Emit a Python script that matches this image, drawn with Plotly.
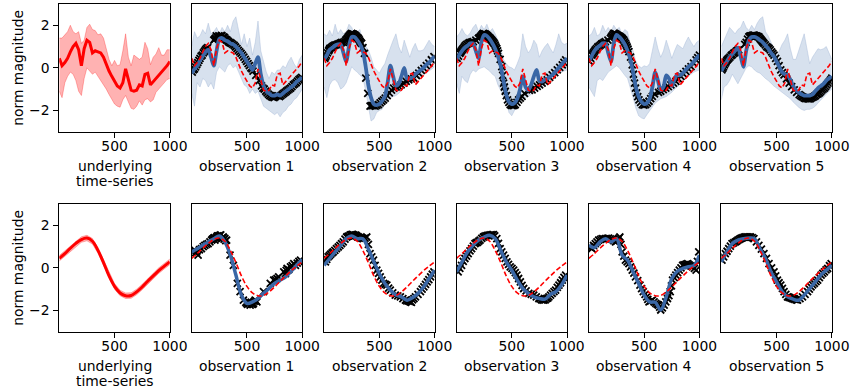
import plotly.graph_objects as go

W, H = 850, 389

# ---------------- data ----------------
xg = [i * 25 for i in range(41)]          # 0..1000 step 25
xs = [i * 50 for i in range(21)]          # 0..1000 step 50

# top row: underlying (noisy) series estimate and band
top_mean = [0.45, 0.1, 0.25, 0.45, 0.75, 1.0, 1.15, 0.85, 0.1, 0.9, 1.3, 1.2, 0.7, 0.8, 0.75, 0.7,
            0.5, 0.15, -0.15, -0.4, -0.65, -0.85, -0.95, -0.7, -0.05, -0.55, -1.05, -1.1, -1.05, -0.8,
            -0.85, -0.3, -0.25, -0.8, -0.65, -0.5, -0.4, -0.25, -0.1, 0.1, 0.3]
top_upper = [1.4, 1.4, 1.55, 1.7, 2.0, 1.7, 1.6, 1.7, 1.15, 1.3, 1.9, 2.05, 1.8, 1.75, 1.55, 1.6,
             1.4, 0.9, 0.4, 0.1, 0.35, 0.1, 0.15, 0.8, 1.6, 0.5, 0.1, 0.6, 0.5, 0.4,
             0.5, 1.2, 0.9, 0.15, 0.5, 0.65, 0.95, 0.6, 0.6, 0.85, 0.85]
top_lower = [-1.1, -1.4, -0.7, -0.4, -0.2, -0.3, -0.6, -1.1, -1.3, -0.5, 0.0, -0.15, -0.3, -0.2, -0.4, -0.6,
             -0.75, -1.0, -1.25, -1.5, -1.7, -1.8, -1.85, -1.5, -1.3, -1.6, -1.9, -1.95, -1.8, -1.55,
             -1.75, -1.5, -1.45, -1.6, -1.5, -1.15, -1.0, -0.85, -0.7, -0.55, -0.5]

# top row observation panels: posterior mean, band, observations
top_obs_mean = [
    [-0.25, -0.05, 0.1, 0.35, 0.55, 0.75, 0.85, 0.5, 0.1, 0.8, 1.35, 1.4, 1.3, 1.25, 1.15, 1.1,
     1.0, 0.85, 0.7, 0.5, 0.3, 0.1, -0.1, 0.2, 0.5, -0.3, -0.85, -1.1, -1.2, -1.3,
     -1.3, -1.25, -1.3, -1.2, -1.1, -1.0, -0.9, -0.8, -0.65, -0.55, -0.45],
    [0.4, 0.6, 0.85, 0.95, 1.05, 1.1, 1.1, 0.7, 0.3, 1.0, 1.45, 1.45, 1.3, 1.1, 0.8, 0.1,
     -0.8, -1.4, -1.7, -1.75, -1.7, -1.55, -1.35, -0.7, 0.1, -0.4, -0.85, -0.75, -0.4, 0.0,
     -0.5, -0.5, -0.45, -0.3, -0.2, -0.1, 0.0, 0.15, 0.25, 0.4, 0.55],
    [0.4, 0.6, 0.8, 0.95, 1.05, 1.15, 1.15, 0.8, 0.45, 1.2, 1.55, 1.5, 1.35, 1.15, 0.9, 0.55,
     0.1, -0.6, -1.25, -1.6, -1.7, -1.65, -1.45, -1.0, -0.4, -0.9, -1.05, -0.8, -0.4, -0.1,
     -0.6, -0.65, -0.55, -0.5, -0.4, -0.3, -0.15, 0.0, 0.15, 0.3, 0.45],
    [0.3, 0.55, 0.8, 0.95, 1.05, 1.15, 1.15, 0.7, 0.3, 1.15, 1.55, 1.45, 1.3, 1.1, 0.8, 0.4,
     -0.2, -0.9, -1.35, -1.6, -1.7, -1.65, -1.45, -0.9, -0.2, -0.6, -1.05, -0.9, -0.35, -0.5,
     -0.85, -0.55, -0.3, -0.35, -0.25, -0.1, 0.05, 0.15, 0.3, 0.45, 0.6],
    [-0.15, 0.1, 0.3, 0.5, 0.65, 0.8, 0.95, 0.55, 0.05, 0.8, 1.3, 1.45, 1.45, 1.4, 1.3, 1.2,
     1.05, 0.9, 0.7, 0.55, 0.3, 0.05, -0.2, -0.3, -0.35, -0.55, -0.85, -1.05, -1.15, -1.25,
     -1.3, -1.3, -1.3, -1.25, -1.1, -0.95, -0.85, -0.75, -0.6, -0.5, -0.4],
]
top_obs_upper = [
    [1.0, 1.7, 1.4, 1.5, 1.8, 1.6, 2.1, 1.6, 1.7, 1.9, 1.6, 1.9, 1.7, 2.0, 1.7, 2.2,
     2.4, 1.7, 1.1, 1.6, 1.0, 1.4, 0.6, 1.2, 2.2, 0.8, 0.3, -0.2, -0.5, -0.2,
     -0.3, -0.1, -0.1, 0.1, 0.0, 0.3, 0.5, 0.2, 0.0, 0.4, 0.6],
    [1.6, 1.5, 1.77, 1.5, 2.05, 1.6, 1.8, 1.6, 1.7, 2.05, 1.9, 1.6, 1.7, 1.8, 1.2, 1.0,
     0.85, 0.5, 0.05, -0.1, -0.25, 0.0, 0.2, 0.6, 1.0, 1.3, 1.6, 1.0, 0.7, 1.3,
     0.9, 0.5, 0.9, 1.15, 0.8, 0.8, 0.85, 1.1, 1.3, 1.1, 1.0],
    [1.45, 1.6, 1.85, 1.6, 1.5, 1.65, 1.9, 2.05, 1.7, 2.0, 1.8, 2.05, 1.7, 1.85, 1.6, 1.3,
     0.9, 0.4, 0.2, 0.05, 0.0, -0.1, 0.2, 0.55, 1.6, 1.0, 0.7, 0.9, 1.3, 1.1,
     0.5, 0.8, 1.0, 1.15, 0.9, 0.7, 1.1, 1.6, 1.2, 1.1, 1.15],
    [1.5, 1.6, 1.9, 1.5, 1.6, 2.0, 1.7, 1.9, 1.7, 2.0, 1.8, 1.9, 1.6, 1.8, 1.7, 1.1,
     0.8, 0.3, 0.1, 0.0, 0.1, 0.05, 0.2, 0.8, 1.45, 0.9, 0.5, 0.8, 1.3, 0.9,
     0.45, 0.8, 1.1, 1.0, 0.9, 1.2, 1.45, 1.2, 1.0, 1.2, 1.3],
    [1.0, 1.3, 1.6, 1.9, 1.75, 1.6, 1.8, 1.9, 2.2, 1.9, 1.75, 2.0, 1.8, 2.1, 2.3, 2.4,
     1.7, 1.5, 1.2, 0.9, 0.6, 0.8, 1.1, 1.3, 1.6, 0.9, 0.4, 0.4, 0.8, 1.2,
     1.6, 0.9, 0.2, 0.5, 0.7, 0.9, 0.85, 0.9, 1.0, 0.7, 0.4],
]
top_obs_lower = [
    [-1.2, -1.8, -0.7, -0.9, -0.5, -0.6, -0.9, -0.7, -1.0, -0.2, 0.05, -0.1, -0.2, 0.1, 0.2, 0.0,
     0.1, -0.2, -0.5, -0.8, -0.9, -1.2, -1.0, -1.2, -1.1, -1.5, -1.8, -1.9, -2.0, -2.1,
     -2.2, -2.1, -2.3, -2.1, -2.0, -1.8, -1.7, -1.5, -1.4, -1.2, -1.0],
    [-0.9, -1.4, -0.8, -0.6, -0.55, -0.7, -1.0, -0.9, -0.7, -0.3, 0.05, -0.1, -0.2, -0.35, -0.45, -1.05,
     -1.8, -2.5, -2.4, -2.1, -2.0, -1.95, -1.7, -1.5, -1.4, -1.35, -1.3, -1.2, -1.05, -0.9,
     -0.8, -0.7, -0.65, -0.55, -0.45, -0.4, -0.3, -0.25, -0.15, -0.05, 0.05],
    [-0.7, -1.2, -0.4, -0.6, -0.7, -0.3, -0.1, -0.2, -0.05, 0.0, 0.05, -0.05, -0.15, -0.3, -0.4, -0.8,
     -1.05, -1.3, -1.6, -2.1, -2.25, -2.0, -1.8, -1.55, -1.45, -1.4, -1.35, -1.25, -1.15, -1.05,
     -0.95, -0.9, -0.8, -0.65, -0.5, -0.4, -0.3, -0.25, -0.2, -0.15, -0.1],
    [-0.9, -1.1, -1.35, -0.6, -0.5, -0.6, -0.4, -0.2, -0.1, 0.0, 0.1, 0.0, -0.2, -0.35, -0.5, -0.9,
     -1.4, -1.9, -2.25, -2.35, -2.4, -2.2, -2.0, -1.8, -1.65, -1.55, -1.45, -1.4, -1.35, -1.25,
     -1.15, -1.0, -0.9, -0.75, -0.6, -0.5, -0.4, -0.3, -0.2, -0.15, -0.1],
    [-1.5, -0.9, -0.8, -0.6, -0.3, -0.5, -0.75, -0.5, -0.25, 0.0, 0.1, 0.05, -0.1, -0.2, -0.25, -0.4,
     -0.5, -0.6, -0.75, -0.85, -0.95, -1.05, -1.15, -1.25, -1.35, -1.45, -1.6, -1.75, -1.85, -1.95,
     -2.0, -1.95, -1.95, -1.9, -1.8, -1.65, -1.5, -1.35, -1.2, -1.1, -1.0],
]
top_obs_x = [
    [5, 25, 45, 65, 85, 105, 125, 145, 200, 215, 230, 245, 260, 275, 290, 305, 320, 340, 360, 385,
     410, 435, 460, 485, 510, 535, 555, 645, 670, 695, 720, 745, 770, 795, 820, 845, 870, 895, 920,
     945, 970, 995,
     15, 35, 55, 75, 95, 115, 135, 208, 222, 238, 252, 268, 283, 298, 313, 330, 350, 372, 397, 422,
     447, 472, 497, 522, 545, 580, 610, 632, 657, 682, 707, 732, 757, 782, 807, 832, 857, 882, 907,
     932, 957, 982],
    [6, 21, 40, 52, 75, 97, 120, 143, 160, 188, 205, 219, 235, 249, 265, 280, 295, 310, 325, 340, 365,
     377, 416, 438, 462, 492, 523, 553, 590, 629, 675, 720, 766, 812, 857, 903, 948, 994,
     14, 30, 46, 64, 86, 108, 131, 152, 175, 196, 212, 227, 242, 257, 272, 288, 302, 318, 332, 352,
     395, 427, 450, 477, 507, 538, 571, 610, 652, 697, 743, 789, 835, 880, 925, 971],
    [6, 30, 45, 61, 80, 106, 130, 152, 198, 215, 230, 243, 258, 274, 290, 305, 319, 335, 350, 365, 380,
     410, 426, 441, 462, 486, 511, 532, 562, 593, 684, 730, 775, 821, 866, 912, 957, 988,
     18, 38, 53, 70, 93, 118, 141, 175, 206, 222, 236, 250, 266, 282, 297, 312, 327, 342, 357, 372,
     395, 418, 433, 451, 474, 498, 521, 547, 577, 615, 660, 707, 752, 798, 843, 889, 934, 972],
    [6, 27, 42, 58, 80, 103, 125, 149, 195, 210, 225, 240, 255, 270, 285, 301, 316, 331, 346, 362, 392,
     413, 432, 453, 483, 514, 544, 574, 650, 696, 742, 787, 833, 878, 924, 970, 1000,
     16, 35, 50, 69, 92, 114, 137, 172, 202, 218, 232, 248, 262, 278, 293, 308, 323, 338, 354, 377,
     403, 422, 442, 468, 498, 529, 559, 594, 630, 673, 719, 765, 810, 855, 901, 947, 985],
    [6, 20, 36, 50, 67, 90, 112, 135, 158, 225, 249, 262, 280, 295, 310, 325, 340, 355, 370, 386, 410,
     432, 455, 477, 508, 538, 568, 614, 660, 705, 730, 751, 775, 796, 820, 842, 865, 888, 910, 933,
     955, 979, 1000,
     13, 28, 43, 58, 78, 100, 123, 146, 212, 237, 255, 271, 288, 302, 318, 333, 348, 362, 378, 398,
     421, 443, 466, 492, 523, 553, 590, 637, 682, 718, 740, 763, 786, 808, 831, 853, 876, 899, 921,
     944, 967, 990],
]
top_obs_y = [
    [-0.2, -0.05, 0.15, 0.35, 0.55, 0.7, 0.85, 0.95, 1.3, 1.4, 1.45, 1.5, 1.4, 1.5, 1.45, 1.35, 1.3,
     1.2, 1.15, 1.05, 0.9, 0.75, 0.6, 0.4, 0.2, 0.0, -0.15, -0.95, -1.1, -1.25, -1.35, -1.4, -1.3,
     -1.35, -1.25, -1.15, -1.05, -0.95, -0.8, -0.7, -0.55, -0.45,
     -0.1, 0.05, 0.25, 0.45, 0.6, 0.78, 0.9, 1.35, 1.5, 1.42, 1.48, 1.52, 1.38, 1.42, 1.32, 1.25,
     1.18, 1.1, 0.98, 0.82, 0.68, 0.5, 0.3, 0.1, -0.05, -0.35, -0.6, -0.85, -1.0, -1.18, -1.3,
     -1.38, -1.35, -1.32, -1.3, -1.2, -1.1, -1.0, -0.88, -0.75, -0.62, -0.5],
    [0.45, 0.6, 0.8, 0.92, 1.0, 1.07, 1.1, 1.15, 1.2, 1.23, 1.35, 1.46, 1.55, 1.62, 1.58, 1.54, 1.45,
     1.38, 1.25, 1.15, 0.68, -0.48, -1.8, -1.77, -1.8, -1.73, -1.57, -1.42, -1.18, -0.95, -0.87,
     -0.72, -0.56, -0.48, -0.25, -0.02, 0.22, 0.53,
     0.52, 0.7, 0.85, 0.95, 1.03, 1.08, 1.12, 1.17, 1.2, 1.3, 1.4, 1.5, 1.58, 1.6, 1.56, 1.5, 1.42,
     1.32, 1.2, 0.95, -1.2, -1.78, -1.78, -1.76, -1.65, -1.5, -1.3, -1.05, -0.9, -0.8, -0.64, -0.52,
     -0.36, -0.12, 0.1, 0.38],
    [0.45, 0.68, 0.8, 0.92, 1.05, 1.15, 1.2, 1.23, 1.38, 1.45, 1.55, 1.62, 1.6, 1.54, 1.45, 1.38, 1.3,
     1.2, 1.07, 0.9, 0.68, 0.06, -0.72, -1.1, -1.5, -1.73, -1.77, -1.73, -1.5, -1.34, -1.03, -0.87,
     -0.72, -0.56, -0.33, -0.1, 0.14, 0.37,
     0.55, 0.74, 0.86, 0.98, 1.1, 1.18, 1.22, 1.3, 1.42, 1.5, 1.58, 1.6, 1.57, 1.5, 1.42, 1.34, 1.25,
     1.14, 0.98, 0.8, 0.4, -0.35, -0.9, -1.3, -1.62, -1.76, -1.76, -1.62, -1.42, -1.2, -1.06, -0.95,
     -0.8, -0.64, -0.45, -0.22, 0.02, 0.26],
    [0.3, 0.6, 0.72, 0.84, 0.98, 1.07, 1.15, 1.23, 1.38, 1.5, 1.62, 1.6, 1.54, 1.5, 1.45, 1.38, 1.3,
     1.15, 0.98, 0.76, 0.14, -0.72, -1.18, -1.5, -1.73, -1.73, -1.57, -1.34, -1.1, -0.95, -0.8,
     -0.64, -0.4, -0.17, 0.06, 0.37, 0.6,
     0.45, 0.66, 0.78, 0.9, 1.02, 1.12, 1.2, 1.3, 1.45, 1.56, 1.62, 1.57, 1.52, 1.48, 1.42, 1.34,
     1.22, 1.07, 0.88, 0.5, -0.3, -0.95, -1.35, -1.62, -1.75, -1.66, -1.45, -1.22, -1.15, -1.02,
     -0.88, -0.72, -0.52, -0.28, -0.05, 0.22, 0.48],
    [-0.1, 0.05, 0.22, 0.35, 0.45, 0.58, 0.68, 0.78, 0.84, 1.2, 1.46, 1.5, 1.52, 1.54, 1.5, 1.48,
     1.46, 1.35, 1.25, 1.15, 1.0, 0.92, 0.75, 0.6, 0.3, -0.1, -0.33, -0.72, -1.03, -1.26, -1.35,
     -1.42, -1.45, -1.46, -1.4, -1.34, -1.25, -1.18, -1.05, -0.95, -0.8, -0.64, -0.48,
     -0.02, 0.14, 0.28, 0.4, 0.5, 0.62, 0.72, 0.82, 1.1, 1.35, 1.48, 1.5, 1.53, 1.52, 1.5, 1.47,
     1.4, 1.3, 1.2, 1.08, 0.96, 0.84, 0.68, 0.45, 0.1, -0.22, -0.52, -0.88, -1.15, -1.3, -1.38,
     -1.44, -1.46, -1.44, -1.38, -1.3, -1.22, -1.12, -1.0, -0.88, -0.72, -0.56],
]

# bottom row: smooth underlying series and band
bot_mean = [0.45, 0.67, 0.92, 1.15, 1.33, 1.4, 1.25, 0.82, 0.25, -0.38, -0.87, -1.18, -1.31,
            -1.3, -1.13, -0.9, -0.63, -0.38, -0.13, 0.08, 0.28]
bot_upper = [0.58, 0.8, 1.05, 1.28, 1.46, 1.53, 1.38, 0.95, 0.38, -0.25, -0.74, -1.05, -1.18,
             -1.17, -1.0, -0.77, -0.5, -0.25, 0.0, 0.21, 0.41]
bot_lower = [0.32, 0.54, 0.79, 1.02, 1.2, 1.27, 1.12, 0.69, 0.12, -0.51, -1.0, -1.31, -1.44,
             -1.43, -1.26, -1.03, -0.76, -0.51, -0.26, -0.05, 0.15]

bot_obs_mean = [
    [0.75, 0.9, 1.06, 1.22, 1.37, 1.5, 1.22, 0.6, -0.34, -1.28, -1.67, -1.6, -1.44, -1.2, -0.97,
     -0.73, -0.58, -0.42, -0.16, 0.12, 0.4],
    [0.12, 0.44, 0.75, 1.06, 1.37, 1.5, 1.37, 1.37, 0.9, 0.28, -0.27, -0.73, -1.05, -1.28, -1.36,
     -1.52, -1.4, -1.2, -0.9, -0.5, -0.11],
    [-0.19, 0.28, 0.75, 1.06, 1.3, 1.45, 1.53, 1.37, 0.83, 0.28, -0.11, -0.58, -0.97, -1.2, -1.36,
     -1.44, -1.47, -1.25, -1.12, -0.81, -0.34],
    [1.06, 0.95, 1.22, 1.37, 1.22, 1.37, 0.6, 0.36, -0.19, -0.73, -1.28, -1.6, -1.62, -1.98, -1.36,
     -0.5, -0.16, -0.03, 0.05, 0.1, 0.6],
    [0.28, 0.75, 1.14, 1.3, 1.37, 1.4, 1.37, 0.9, 0.44, -0.19, -0.66, -1.12, -1.36, -1.47, -1.52,
     -1.28, -0.97, -0.66, -0.34, -0.11, 0.12],
]
bot_obs_x = [
    [6, 27, 45, 58, 88, 119, 149, 180, 195, 210, 225, 240, 255, 271, 286, 300, 316, 347, 377, 413,
     438, 468, 498, 514, 529, 545, 559, 574, 590, 650, 711, 742, 772, 833, 848, 863, 894, 924, 939,
     985,
     16, 36, 70, 104, 134, 165, 188, 203, 218, 233, 248, 263, 278, 293, 308, 490, 506, 521, 537,
     552, 566, 582, 757, 787, 855, 878, 909, 955, 970],
    [12, 36, 60, 82, 112, 143, 173, 204, 225, 249, 265, 280, 295, 310, 340, 356, 386, 416, 447, 477,
     508, 538, 568, 599, 644, 690, 736, 760, 781, 800, 827, 872, 903, 933, 964, 994,
     24, 48, 72, 97, 128, 158, 189, 215, 237, 257, 272, 287, 302, 325, 348, 371, 401, 432, 462, 493,
     523, 553, 584, 621, 667, 713, 748, 770, 790, 813, 850, 887, 918, 948, 979],
    [15, 46, 76, 106, 137, 167, 190, 213, 243, 265, 289, 310, 334, 365, 395, 426, 456, 486, 517, 547,
     578, 608, 654, 699, 745, 770, 790, 815, 836, 866, 897, 927, 957, 988,
     30, 61, 91, 122, 152, 178, 202, 228, 254, 277, 300, 322, 346, 380, 410, 441, 471, 502, 532,
     562, 593, 630, 676, 722, 757, 780, 803, 826, 851, 882, 912, 942, 972],
    [6, 27, 58, 88, 119, 149, 179, 210, 240, 260, 280, 301, 331, 362, 392, 422, 462, 492, 523, 544,
     574, 605, 630, 650, 681, 711, 736, 757, 787, 818, 848, 870, 894, 915, 939, 970, 994,
     16, 42, 73, 104, 134, 164, 194, 225, 250, 270, 290, 316, 346, 377, 407, 442, 477, 508, 533,
     559, 590, 618, 640, 665, 696, 724, 747, 772, 803, 833, 859, 882, 905, 927, 955, 982],
    [6, 36, 67, 97, 128, 150, 173, 195, 219, 240, 264, 295, 340, 386, 432, 477, 508, 538, 568, 599,
     620, 644, 665, 690, 735, 781, 812, 842, 872, 903, 933, 963, 994,
     21, 52, 82, 113, 139, 162, 184, 207, 230, 252, 280, 318, 363, 409, 455, 492, 523, 553, 584,
     610, 632, 655, 678, 712, 758, 797, 827, 857, 888, 918, 948, 979],
]
bot_obs_y = [
    [0.75, 0.83, 0.75, 0.6, 0.9, 1.06, 1.14, 1.3, 1.37, 1.3, 1.45, 1.5, 1.53, 1.37, 1.45, 1.38, 1.3,
     0.6, 0.12, -0.73, -1.12, -1.52, -1.67, -1.6, -1.75, -1.7, -1.67, -1.52, -1.6, -1.12, -0.73,
     -0.58, -0.5, -0.19, -0.27, -0.03, 0.05, 0.2, 0.12, 0.36,
     0.8, 0.72, 0.85, 1.0, 1.1, 1.22, 1.35, 1.42, 1.4, 1.5, 1.45, 1.55, 1.42, 1.35, 1.28, -1.62,
     -1.72, -1.68, -1.62, -1.72, -1.58, -1.55, -0.55, -0.42, -0.12, -0.08, 0.1, 0.22, 0.3],
    [0.28, 0.52, 0.65, 0.75, 0.9, 1.06, 1.22, 1.45, 1.5, 1.56, 1.55, 1.53, 1.5, 1.45, 1.4, 1.37,
     1.45, 0.67, 0.36, -0.11, -0.42, -0.73, -0.81, -1.05, -1.28, -1.36, -1.52, -1.55, -1.6, -1.5,
     -1.36, -1.12, -0.89, -0.66, -0.42, -0.19,
     0.4, 0.58, 0.7, 0.82, 0.98, 1.14, 1.35, 1.48, 1.55, 1.57, 1.52, 1.54, 1.46, 1.42, 1.38, 1.4,
     1.1, 0.52, 0.12, -0.26, -0.58, -0.77, -0.95, -1.18, -1.32, -1.45, -1.55, -1.58, -1.62, -1.45,
     -1.25, -1.0, -0.78, -0.55, -0.3],
    [-0.19, 0.12, 0.44, 0.67, 0.9, 1.14, 1.2, 1.3, 1.45, 1.5, 1.53, 1.55, 1.56, 1.37, 0.9, 0.6,
     0.28, 0.05, -0.11, -0.34, -0.66, -0.97, -1.2, -1.28, -1.44, -1.5, -1.52, -1.45, -1.36, -1.2,
     -1.05, -0.81, -0.58, -0.34,
     -0.02, 0.3, 0.55, 0.8, 1.02, 1.18, 1.26, 1.38, 1.48, 1.52, 1.54, 1.56, 1.5, 1.15, 0.75, 0.45,
     0.16, -0.02, -0.22, -0.5, -0.82, -1.08, -1.24, -1.36, -1.46, -1.5, -1.5, -1.42, -1.28, -1.12,
     -0.92, -0.7, -0.45],
    [0.98, 0.9, 1.14, 1.3, 1.37, 1.37, 1.4, 1.34, 1.22, 1.3, 1.45, 0.75, 0.36, 0.2, -0.11, -0.42,
     -0.81, -1.12, -1.36, -1.6, -1.52, -1.67, -1.75, -1.98, -1.75, -1.44, -1.12, -0.58, -0.34, -0.11,
     0.12, 0.15, 0.2, 0.1, 0.05, -0.11, 0.75,
     0.95, 1.05, 1.22, 1.34, 1.36, 1.38, 1.36, 1.28, 1.25, 1.38, 1.1, 0.55, 0.28, 0.05, -0.25, -0.6,
     -0.98, -1.25, -1.48, -1.56, -1.6, -1.72, -1.85, -1.88, -1.6, -1.3, -0.85, -0.46, -0.22, 0.0,
     0.14, 0.18, 0.15, 0.08, -0.02, 0.3],
    [0.36, 0.67, 0.9, 1.14, 1.22, 1.3, 1.37, 1.42, 1.45, 1.45, 1.45, 1.37, 1.06, 0.67, 0.2, -0.19,
     -0.58, -0.81, -1.12, -1.36, -1.4, -1.44, -1.48, -1.52, -1.36, -1.12, -0.89, -0.73, -0.58,
     -0.34, -0.19, -0.03, 0.2,
     0.52, 0.78, 1.02, 1.18, 1.26, 1.34, 1.4, 1.44, 1.45, 1.46, 1.42, 1.22, 0.88, 0.45, 0.0, -0.38,
     -0.7, -0.96, -1.25, -1.38, -1.42, -1.46, -1.5, -1.45, -1.25, -1.0, -0.8, -0.65, -0.46, -0.26,
     -0.1, 0.1],
]

row_titles = [["underlying", "time-series"], ["observation 1"], ["observation 2"],
              ["observation 3"], ["observation 4"], ["observation 5"]]
y_title = "norm magnitude"
x_ticks = [500, 1000]
y_ticks = [-2, 0, 2]
y_ticklabels = ["\u22122", "0", "2"]

# ---------------- style ----------------
RED = "#ff0000"
BLUE = "#3a67a6"
BAND_BLUE = "rgba(176,196,222,0.5)"
BAND_RED = "rgba(255,0,0,0.3)"
FONT = "DejaVu Sans"
FS = 13.9

col_left = [59.3 + 132.4 * c for c in range(6)]
panel_w = 110.5
row_top = [4.0, 204.0]
panel_h = 127.7

MARK = dict(symbol="x-thin", size=7, color="black", line=dict(width=1.8, color="black"))

fig = go.Figure()


def ax_ids(r, c):
    k = r * 6 + c + 1
    return ("x" if k == 1 else f"x{k}"), ("y" if k == 1 else f"y{k}"), k


def add_band(xa, ya, x, up, lo, color, edge):
    fig.add_trace(go.Scatter(x=x, y=up, xaxis=xa, yaxis=ya, mode="lines",
                             line=dict(width=0.8, color=edge),
                             showlegend=False, hoverinfo="skip"))
    fig.add_trace(go.Scatter(x=x, y=lo, xaxis=xa, yaxis=ya, mode="lines", fill="tonexty",
                             fillcolor=color, line=dict(width=0.8, color=edge),
                             showlegend=False, hoverinfo="skip"))


for r in range(2):
    for c in range(6):
        xa, ya, k = ax_ids(r, c)
        if r == 0:
            if c == 0:
                add_band(xa, ya, xg, top_upper, top_lower, BAND_RED, "rgba(255,0,0,0.35)")
                fig.add_trace(go.Scatter(x=xg, y=top_mean, xaxis=xa, yaxis=ya, mode="lines",
                                         line=dict(color=RED, width=3), showlegend=False))
            else:
                i = c - 1
                add_band(xa, ya, xg, top_obs_upper[i], top_obs_lower[i], BAND_BLUE,
                         "rgba(150,175,210,0.45)")
                fig.add_trace(go.Scatter(x=top_obs_x[i], y=top_obs_y[i], xaxis=xa, yaxis=ya,
                                         mode="markers", marker=MARK, showlegend=False))
                fig.add_trace(go.Scatter(x=xg, y=top_obs_mean[i], xaxis=xa, yaxis=ya, mode="lines",
                                         line=dict(color=BLUE, width=3.8, shape="spline",
                                                   smoothing=0.8),
                                         showlegend=False))
                fig.add_trace(go.Scatter(x=xg, y=top_mean, xaxis=xa, yaxis=ya, mode="lines",
                                         line=dict(color=RED, width=1.6, dash="5px,2.5px"),
                                         showlegend=False))
        else:
            if c == 0:
                add_band(xa, ya, xs, bot_upper, bot_lower, BAND_RED, "rgba(255,0,0,0.35)")
                fig.add_trace(go.Scatter(x=xs, y=bot_mean, xaxis=xa, yaxis=ya, mode="lines",
                                         line=dict(color=RED, width=3, shape="spline"),
                                         showlegend=False))
            else:
                i = c - 1
                fig.add_trace(go.Scatter(x=bot_obs_x[i], y=bot_obs_y[i], xaxis=xa, yaxis=ya,
                                         mode="markers", marker=MARK, showlegend=False))
                fig.add_trace(go.Scatter(x=xs, y=bot_obs_mean[i], xaxis=xa, yaxis=ya, mode="lines",
                                         line=dict(color=BLUE, width=3.5, shape="spline"),
                                         showlegend=False))
                fig.add_trace(go.Scatter(x=xs, y=bot_mean, xaxis=xa, yaxis=ya, mode="lines",
                                         line=dict(color=RED, width=1.6, dash="5px,2.5px",
                                                   shape="spline"),
                                         showlegend=False))

        x0 = col_left[c] / W
        x1 = (col_left[c] + panel_w) / W
        y1 = 1 - row_top[r] / H
        y0 = 1 - (row_top[r] + panel_h) / H
        key = "" if k == 1 else str(k)
        fig.layout["xaxis" + key] = dict(
            domain=[x0, x1], anchor=ya, range=[0, 1000], tickvals=x_ticks,
            ticktext=[str(v) for v in x_ticks], ticks="outside", ticklen=5, tickwidth=1,
            tickcolor="black", showline=True, linecolor="black", linewidth=1, mirror=True,
            showgrid=False, zeroline=False, tickfont=dict(family=FONT, size=FS, color="black"),
            ticklabelstandoff=-3, automargin=False)
        fig.layout["yaxis" + key] = dict(
            domain=[y0, y1], anchor=xa, range=[-3, 3],
            tickvals=y_ticks if c == 0 else [], ticktext=y_ticklabels if c == 0 else [],
            ticks="outside" if c == 0 else "", ticklen=5, tickwidth=1, tickcolor="black",
            showline=True, linecolor="black", linewidth=1, mirror=True, showgrid=False,
            zeroline=False, showticklabels=(c == 0), automargin=False,
            tickfont=dict(family=FONT, size=FS, color="black"), ticklabelstandoff=1)

        # x title (one annotation per line)
        for j, line in enumerate(row_titles[c]):
            fig.add_annotation(text=line, xref="paper", yref="paper",
                               x=(col_left[c] + panel_w / 2) / W,
                               y=1 - (row_top[r] + panel_h + 24 + 15.5 * j) / H,
                               yanchor="top", xanchor="center", showarrow=False,
                               font=dict(family=FONT, size=FS, color="black"))
    # y title
    fig.add_annotation(text=y_title, xref="paper", yref="paper", x=18 / W,
                       y=1 - (row_top[r] + panel_h / 2) / H, textangle=-90, showarrow=False,
                       xanchor="center", yanchor="middle",
                       font=dict(family=FONT, size=FS, color="black"))

fig.update_layout(width=W, height=H, margin=dict(l=0, r=0, t=0, b=0, autoexpand=False),
                  paper_bgcolor="white", plot_bgcolor="white", showlegend=False)

fig.write_html("out.html")
